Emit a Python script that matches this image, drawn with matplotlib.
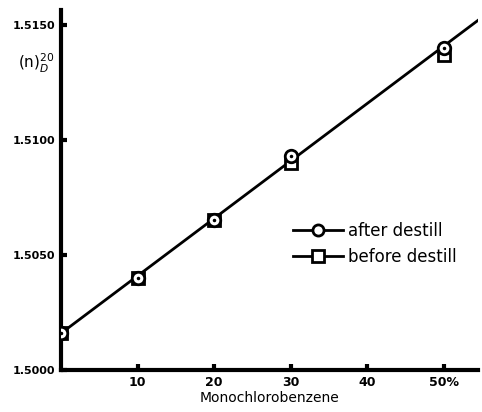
import numpy as np
import matplotlib.pyplot as plt
from matplotlib.lines import Line2D

# Monochlorobenzene content (%) and refractive index n_D^20
conc = [0, 10, 20, 30, 50]
n_after = [1.5016, 1.5040, 1.5065, 1.5093, 1.5140]
n_before = [1.5016, 1.5040, 1.5065, 1.5090, 1.5137]

# drawn straight line through the points
line_x = [0, 54.5]
line_y = [1.5016, 1.5152]

xticks = [10, 20, 30, 40, 50]
xticklabels = ['10', '20', '30', '40', '50%']
yticks = [1.5000, 1.5050, 1.5100, 1.5150]
yticklabels = ['1.5000', '1.5050', '1.5100', '1.5150']

fig = plt.figure(figsize=(4.82, 4.12), dpi=100)
ax = fig.add_axes([0.127, 0.102, 0.865, 0.874])

ax.plot(line_x, line_y, color='black', lw=2, zorder=2)
ax.plot(conc, n_before, ls='none', marker='s', ms=9, mfc='white', mec='black', mew=2, zorder=3)
ax.plot(conc, n_after, ls='none', marker='o', ms=9, mfc='white', mec='black', mew=2, zorder=4)
ax.plot(conc, n_after, ls='none', marker='.', ms=3, color='black', zorder=5)

ax.set_xlim(0, 54.5)
ax.set_ylim(1.5000, 1.51565)
ax.set_xticks(xticks)
ax.set_xticklabels(xticklabels, fontsize=9, fontweight='bold')
ax.set_yticks(yticks)
ax.set_yticklabels(yticklabels, fontsize=8, fontweight='bold')
ax.tick_params(direction='in', length=4, width=3, pad=4)

for s in ['top', 'right']:
    ax.spines[s].set_visible(False)
for s in ['left', 'bottom']:
    ax.spines[s].set_linewidth(3)

ax.set_xlabel('Monochlorobenzene', fontsize=10, labelpad=2)
fig.text(0.075, 0.845, r'$\mathrm{(n)}_D^{20}$', fontsize=11, ha='center', va='center')

handles = [
    Line2D([], [], color='black', lw=2, marker='o', ms=8, mfc='white', mew=2),
    Line2D([], [], color='black', lw=2, marker='s', ms=8, mfc='white', mew=2),
]
ax.legend(handles, ['after destill', 'before destill'], loc='center left',
          bbox_to_anchor=(0.52, 0.35), frameon=False, fontsize=12,
          handlelength=3.0, handletextpad=0.3, labelspacing=0.45)

fig.savefig('out.png', dpi=100)
